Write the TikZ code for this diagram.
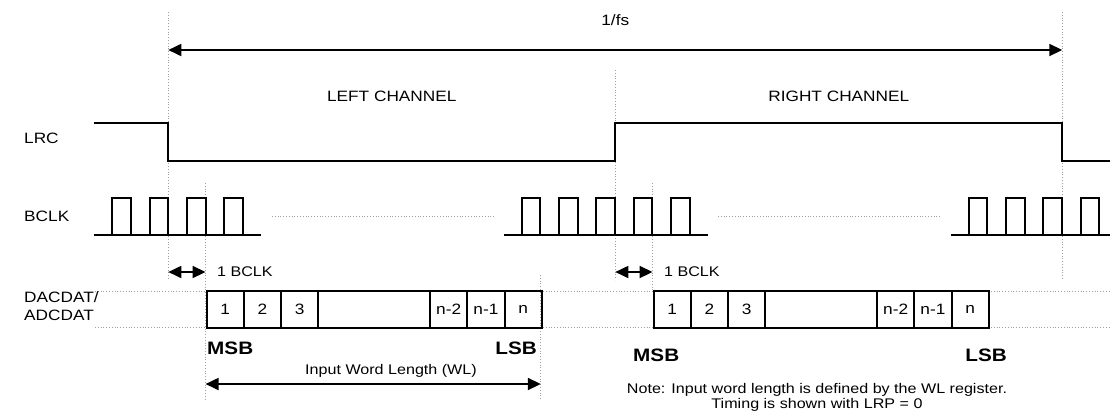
\documentclass[tikz,border=0pt]{standalone}
\usepackage{fontspec}
\setmainfont{Liberation Sans}[FakeStretch=1.15]
\usepackage{tikz}
\usetikzlibrary{arrows.meta}
\tikzset{
  wave/.style = {line width=2pt, line join=miter},% signal trace
  guide/.style = {gray!75, line width=0.8pt, dotted},% dotted helper line
  sig_lbl/.style = {anchor=west, inner sep=0pt, align=left,
    font=\fontsize{15}{18}\selectfont},
  ch_lbl/.style = {inner sep=0pt, font=\fontsize{15}{18}\selectfont},
  small_lbl/.style = {inner sep=0pt, font=\fontsize{14}{15}\selectfont},
  bit_lbl/.style = {inner sep=0pt, font=\fontsize{18}{20}\selectfont\bfseries},
  bitbox/.style = {draw, line width=2pt, anchor=west, inner sep=0pt,
    minimum height=36.7pt, font=\fontsize{15}{16}\selectfont},
  dim/.style = {line width=1.8pt,
    {Triangle[length=13pt,width=12pt]}-{Triangle[length=13pt,width=12pt]}}
}

\begin{document}
\begin{tikzpicture}[x=1pt, y=-1pt]
  \useasboundingbox (0,0) rectangle (1110,416);
  % dotted guides
  \foreach \x/\ya/\yb in {168.3/12/280, 615.3/70/280, 1062.3/12/280,
      205.55/183/400, 652.55/183/291, 540.8/275/400}
    \draw[guide] (\x,\ya) -- (\x,\yb);
  \foreach \y in {291, 327.7}
    \draw[guide] (95,\y) -- (1110,\y);
  \draw[guide] (272,216) -- (494,216);
  \draw[guide] (718,216) -- (940,216);

  % signal names
  \node[sig_lbl] (lrc_lbl) at (24,138) {LRC};
  \node[sig_lbl] (bclk_lbl) at (24,216) {BCLK};
  \node[sig_lbl] (dat_lbl) at (24,306) {DACDAT/\\ADCDAT};

  % frame and channels
  \coordinate (fs_l) at (168.3,50);
  \coordinate (fs_r) at (1062.3,50);
  \draw[dim] (fs_l) -- (fs_r);
  \node[ch_lbl] (fs_lbl) at (615.3,20) {1/fs};
  \node[ch_lbl] (left_ch) at (391.8,96) {LEFT CHANNEL};
  \node[ch_lbl] (right_ch) at (838.8,96) {RIGHT CHANNEL};

  % LRC
  \draw[wave] (93.8,123) -- (168.3,123) -- (168.3,160.5) -- (615.3,160.5)
    -- (615.3,123) -- (1062.3,123) -- (1062.3,160.5) -- (1112,160.5);

  % BCLK
  \draw[wave] (93.8,235) -- (261.4,235);
  \draw[wave] (503.55,235) -- (708.4,235);
  \draw[wave] (950.55,235) -- (1112,235);
  \foreach \r in {112.35, 149.65, 186.95, 224.25, 521.75, 559.05, 596.35,
      633.65, 670.95, 968.75, 1006.05, 1043.35, 1080.65}
    \draw[wave] (\r,235) -- ++(0,-37.3) -- ++(18.625,0) -- ++(0,37.3);

  % 1 BCLK delay
  \coordinate (dl_a) at (168.3,272);
  \coordinate (dr_a) at (205.55,272);
  \coordinate (dl_b) at (615.3,272);
  \coordinate (dr_b) at (652.55,272);
  \draw[dim] (dl_a) -- (dr_a);
  \draw[dim] (dl_b) -- (dr_b);
  \node[small_lbl, anchor=west] (bclk_a) at (217,272) {1 BCLK};
  \node[small_lbl, anchor=west] (bclk_b) at (664,272) {1 BCLK};

  % data words
  \foreach \s/\g in {205.55/a, 652.55/b}
    \foreach \lab/\k/\w in {1/0/1, 2/1/1, 3/2/1, {}/3/3, n-2/6/1, n-1/7/1, n/8/1}
      \node[bitbox, minimum width=\w*37.25pt] (box\g\k) at (\s+\k*37.25,309.35) {\lab};

  \node[bit_lbl, anchor=west] (msb_a) at (207,348) {MSB};
  \node[bit_lbl, anchor=east] (lsb_a) at (537,348) {LSB};
  \node[bit_lbl, anchor=west] (msb_b) at (633,355) {MSB};
  \node[bit_lbl, anchor=east] (lsb_b) at (1007,355) {LSB};

  % word length
  \coordinate (wl_l) at (205.55,384);
  \coordinate (wl_r) at (540.8,384);
  \draw[dim] (wl_l) -- (wl_r);
  \node[small_lbl] (wl_lbl) at (391,371) {Input Word Length (WL)};

  \node[small_lbl, align=center] (note) at (817,397)
    {Note: Input word length is defined by the WL register.\\Timing is shown with LRP = 0};
\end{tikzpicture}
\end{document}
